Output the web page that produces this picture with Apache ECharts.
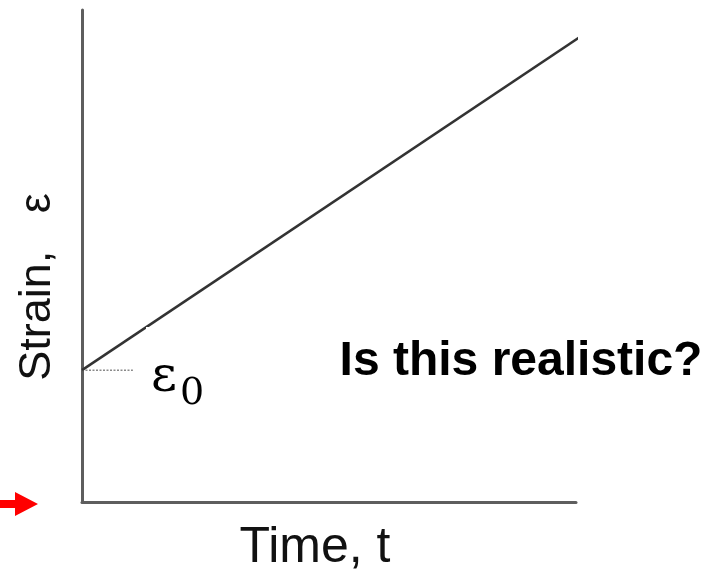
<!DOCTYPE html>
<html>
<head>
<meta charset="utf-8">
<script src="https://cdn.jsdelivr.net/npm/echarts@6/dist/echarts.min.js"></script>
<style>html,body{margin:0;padding:0;background:#fff;}#c{width:723px;height:576px;}</style>
</head>
<body>
<div id="c"></div>
<script>
// Data
const timeValues = [0, 10.08];
const strainValues = [2.68, 9.45];
const refTime = [0, 1.03];
const refStrain = [2.68, 2.68];
const xTitle = 'Time, t';
const yTitle = 'Strain,   ε';
const noteText = 'Is this realistic?';
const eps0Main = 'ε';
const eps0Sub = '0';

const chart = echarts.init(document.getElementById('c'), null, {renderer: 'canvas'});
chart.setOption({
  animation: false,
  backgroundColor: '#ffffff',
  grid: {left: 82, right: 147, top: 10, bottom: 74},
  xAxis: {
    type: 'value', min: 0, max: 10,
    axisLine: {show: true, lineStyle: {color: '#5e5e5e', width: 3}},
    axisTick: {show: false}, axisLabel: {show: false}, splitLine: {show: false}
  },
  yAxis: {
    type: 'value', min: 0, max: 10,
    axisLine: {show: true, onZero: false, lineStyle: {color: '#5e5e5e', width: 3}},
    axisTick: {show: false}, axisLabel: {show: false}, splitLine: {show: false}
  },
  series: [
    {
      type: 'line', clip: false, symbol: 'none', z: 3,
      data: timeValues.map((t, i) => [t, strainValues[i]]),
      lineStyle: {color: '#333333', width: 2.5}
    },
    {
      type: 'line', clip: false, symbol: 'none', z: 2,
      data: refTime.map((t, i) => [t, refStrain[i]]),
      lineStyle: {color: '#8a8a8a', width: 1.5, type: [2, 1.5]}
    }
  ],
  graphic: [
    {type: 'rect', z: 100, shape: {x: 146, y: 327, width: 66, height: 84}, style: {fill: '#ffffff'}},
    {type: 'text', z: 101, x: 151, y: 353, style: {
      text: eps0Main, fontFamily: 'DejaVu Serif', fontSize: 50, fill: '#000',
      align: 'left', verticalAlign: 'top'
    }},
    {type: 'text', z: 101, x: 180, y: 375, style: {
      text: eps0Sub, fontFamily: 'DejaVu Serif', fontSize: 38, fill: '#000',
      align: 'left', verticalAlign: 'top'
    }},
    {type: 'text', z: 101, x: 521, y: 362, style: {
      text: noteText, fontFamily: 'Liberation Sans', fontWeight: 'bold', fontSize: 48,
      fill: '#000', align: 'center', verticalAlign: 'middle'
    }},
    {type: 'text', z: 101, x: 315, y: 548, style: {
      text: xTitle, fontFamily: 'Liberation Sans', fontSize: 50,
      fill: '#111', align: 'center', verticalAlign: 'middle'
    }},
    {type: 'text', z: 101, x: 38, y: 287, rotation: Math.PI / 2, style: {
      text: yTitle, fontFamily: 'Liberation Sans', fontSize: 45,
      fill: '#111', align: 'center', verticalAlign: 'middle'
    }},
    {type: 'polygon', z: 101, shape: {points: [[0, 500], [15, 500], [15, 492], [38, 504], [15, 516], [15, 508], [0, 508]]}, style: {fill: '#ff0000'}}
  ]
});
</script>
</body>
</html>
